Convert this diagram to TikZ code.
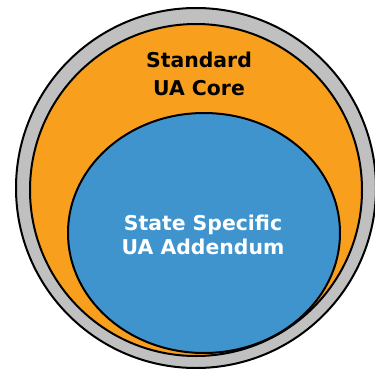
\documentclass[tikz,border=0pt]{standalone}
\usepackage{fontspec}
\setmainfont{DejaVu Sans}
\usepackage{tikz}
\usetikzlibrary{positioning}
\definecolor{ringcolor}{RGB}{192,192,192}
\definecolor{corecolor}{RGB}{249,159,30}
\definecolor{addendumcolor}{RGB}{63,148,206}

\begin{document}
\begin{tikzpicture}[
    x=0.75pt, y=-0.75pt,
    ring/.style={draw=black, line width=1.5pt, fill=ringcolor},
    core/.style={draw=black, line width=1.5pt, fill=corecolor},
    addendum/.style={draw=black, line width=1.5pt, fill=addendumcolor},
    label/.style={align=center, font=\bfseries\fontsize{15.3}{20}\selectfont}
]
    \useasboundingbox (0,0) rectangle (375,368);

    % Circles
    \draw[ring] (196,188) circle (180);
    \draw[core] (196,190) circle (166);
    \draw[addendum] (204,233) ellipse (136 and 120);

    % Labels
    \node[label, text=black, font=\bfseries\fontsize{15.3}{21}\selectfont] (standard) at (199,74) {Standard\\UA Core};
    \node[label, text=white, font=\bfseries\fontsize{15.3}{18}\selectfont] (state) at (203,235) {State Specific\\UA Addendum};
\end{tikzpicture}
\end{document}
